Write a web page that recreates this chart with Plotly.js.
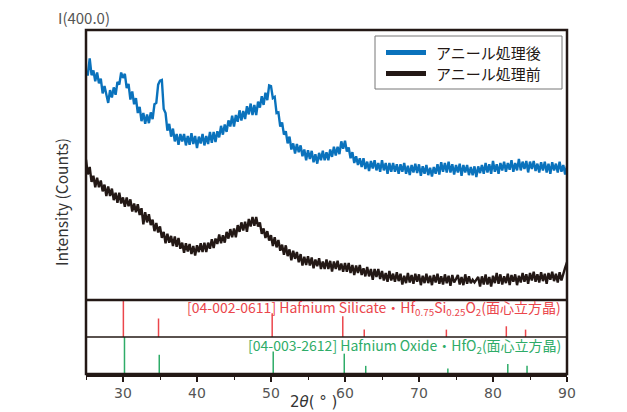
<!DOCTYPE html>
<html>
<head>
<meta charset="utf-8">
<script src="https://cdn.plot.ly/plotly-3.0.1.min.js"></script>
<style>html,body{margin:0;padding:0;background:#fff;}#chart{width:627px;height:412px;}</style>
</head>
<body>
<div id="chart"></div>
<script>
// 2θ sampling grid of the scan
const twoThetaStart = 25;
const twoThetaStep = 0.25;

// Intensity after annealing (アニール処理後), counts, 25°–90° every 0.25°
const intensityAfter = [
334,334,358,333, 340,324,337,321, 328,306,317,302, 292,311,300,315, 304,323,319,337,
329,335,314,320, 297,309,290,299, 277,286,265,277, 261,275,262,278, 268,290,292,319,
325,326,283,277, 251,261,242,254, 235,246,230,246, 235,246,229,243, 230,247,231,243,
225,242,232,246, 229,243,231,249, 233,249,234,250, 241,258,245,260, 249,266,257,273,
257,274,264,281, 266,280,268,287, 275,291,274,289, 274,294,285,302, 289,307,296,318,
317,299,301,277, 278,257,263,245, 250,232,242,223, 232,217,231,219, 229,213,223,207,
222,209,221,204, 216,202,218,207, 221,207,219,207, 223,212,227,214, 227,216,235,224,
236,220,226,210, 219,203,213,200, 210,197,210,194, 205,191,206,195, 207,192,203,190,
207,192,203,187, 203,190,203,190, 201,187,201,190, 203,187,199,185, 200,189,202,188,
201,184,198,187, 200,185,196,183, 197,187,201,186, 204,190,203,189, 205,189,201,186,
200,189,202,184, 200,189,200,185, 197,185,198,182, 198,188,200,187, 203,189,201,187,
206,190,201,187, 203,192,205,190, 203,193,207,190, 203,192,209,192, 205,194,206,189,
205,194,206,191, 202,189,204,192, 205,189,202,187, 204,192,202,189, 205,190,200,186,
198
];

// Intensity before annealing (アニール処理前), counts
const intensityBefore = [
208,186,197,175, 184,167,181,167, 177,161,171,154, 168,154,165,148, 159,144,159,143,
152,138,152,139, 149,131,143,130, 142,126,136,112, 130,115,127,111, 119,102,114,100,
109,92,101,84, 98,85,95,80, 94,79,92,76, 85,70,84,72, 83,68,80,66,
81,71,84,71, 85,71,85,76, 90,77,91,83, 97,84,96,85, 101,91,105,93,
106,93,111,101, 115,103,116,101, 120,109,123,110, 123,109,115,98, 106,92,102,88,
96,80,93,78, 89,73,82,67, 81,65,75,59, 73,61,71,56, 68,51,64,52,
65,51,63,47, 60,50,62,46, 57,46,60,46, 58,42,57,46, 58,44,54,42,
55,42,55,40, 52,37,51,40, 52,37,47,35, 49,35,46,30, 46,34,46,31,
43,29,40,27, 43,29,39,27, 41,28,39,23, 36,25,40,26, 37,24,39,27,
38,22,36,25, 39,25,36,22, 37,26,39,24, 35,23,38,25, 36,21,37,26,
31,37,23,34, 22,38,24,35, 25,30,26,31, 34,20,35,23, 38,23,34,20,
36,25,40,24, 38,23,35,25, 39,22,37,27, 38,22,36,26, 40,27,38,24,
40,29,42,27, 38,26,41,28, 39,24,40,30, 42,28,39,26, 41,29,40,48,
56
];

// Reference pattern [04-002-0611] Hafnium Silicate (relative intensity %)
const silicatePeaks = [30.05, 34.8, 50.16, 59.7, 62.6, 73.7, 81.8, 84.4];
const silicateHeights = [100, 50, 64, 56, 20, 20, 29, 20];
// Reference pattern [04-003-2612] Hafnium Oxide
const oxidePeaks = [30.2, 34.9, 50.3, 59.9, 62.8, 73.9, 82.0, 84.6];
const oxideHeights = [100, 52, 61, 55, 22, 15, 27, 22];

const xTickValues = [30, 40, 50, 60, 70, 80, 90];
const seriesNames = ['アニール処理後', 'アニール処理前'];

const blue = '#0a72bc', black = '#231815', red = '#eb464c', green = '#2eac68';
const fontFam = '"Noto Sans CJK JP", "Noto Sans", sans-serif';
const tickFam = '"DejaVu Sans", "Noto Sans", sans-serif';

const twoTheta = intensityAfter.map((_, i) => twoThetaStart + i * twoThetaStep);

function stickXY(pos, h) {
  const xs = [], ys = [];
  pos.forEach((p, i) => { xs.push(p, p, null); ys.push(0, h[i], null); });
  return {xs, ys};
}
const sil = stickXY(silicatePeaks, silicateHeights);
const oxi = stickXY(oxidePeaks, oxideHeights);

const traces = [
  {x: twoTheta, y: intensityAfter, type: 'scatter', mode: 'lines', name: seriesNames[0],
   line: {color: blue, width: 2.4}, xaxis: 'x', yaxis: 'y', showlegend: false},
  {x: twoTheta, y: intensityBefore, type: 'scatter', mode: 'lines', name: seriesNames[1],
   line: {color: black, width: 2.4}, xaxis: 'x', yaxis: 'y', showlegend: false},
  {x: sil.xs, y: sil.ys, type: 'scatter', mode: 'lines', line: {color: red, width: 1.5},
   xaxis: 'x', yaxis: 'y2', showlegend: false, hoverinfo: 'skip'},
  {x: oxi.xs, y: oxi.ys, type: 'scatter', mode: 'lines', line: {color: green, width: 1.5},
   xaxis: 'x', yaxis: 'y3', showlegend: false, hoverinfo: 'skip'}
];

const W = 627, H = 412, L = 86, R = 60, T = 30, B = 38;
const pw = W - L - R, ph = H - T - B;
const px = v => (v - L) / pw;
const py = v => (H - B - v) / ph;
const d1 = py(300), d2 = py(337);

const layout = {
  width: W, height: H,
  margin: {l: L, r: R, t: T, b: B},
  paper_bgcolor: '#fff', plot_bgcolor: '#fff',
  font: {family: fontFam, color: '#444'},
  showlegend: false,
  xaxis: {
    domain: [0, 1], range: [25, 90], anchor: 'y3',
    showline: true, linewidth: 2.5, linecolor: black,
    ticks: 'outside', ticklen: 5, tickwidth: 1.5, tickcolor: black,
    tickvals: xTickValues,
    minor: {dtick: 5, tick0: 25, ticks: 'outside', ticklen: 3, tickwidth: 1, tickcolor: black},
    tickfont: {size: 14, color: '#555', family: tickFam},
    showgrid: false, zeroline: false
  },
  yaxis: {domain: [d1, 1], range: [0, 400], showticklabels: false, showgrid: false, zeroline: false, ticks: ''},
  yaxis2: {domain: [d2, d1], range: [0, 100], showticklabels: false, showgrid: false, zeroline: false, ticks: ''},
  yaxis3: {domain: [0, d2], range: [0, 100], showticklabels: false, showgrid: false, zeroline: false, ticks: ''},
  shapes: [
    {type: 'rect', xref: 'paper', yref: 'paper', x0: 0, x1: 1, y0: 0, y1: 1, line: {color: black, width: 2.5}},
    {type: 'line', xref: 'paper', yref: 'paper', x0: 0, x1: 1, y0: d1, y1: d1, line: {color: black, width: 2.5}},
    {type: 'line', xref: 'paper', yref: 'paper', x0: 0, x1: 1, y0: d2, y1: d2, line: {color: black, width: 1.5}},
    // legend box and samples
    {type: 'rect', xref: 'paper', yref: 'paper', x0: px(375), x1: px(562), y0: py(89), y1: py(36),
     line: {color: '#777', width: 1}, fillcolor: '#fff'},
    {type: 'line', xref: 'paper', yref: 'paper', x0: px(386), x1: px(426), y0: py(52.5), y1: py(52.5), line: {color: blue, width: 5}},
    {type: 'line', xref: 'paper', yref: 'paper', x0: px(386), x1: px(426), y0: py(73.5), y1: py(73.5), line: {color: black, width: 5}}
  ],
  annotations: [
    {xref: 'paper', yref: 'paper', x: px(434), y: py(52.5), xanchor: 'left', yanchor: 'middle', showarrow: false,
     text: seriesNames[0], font: {size: 15, color: black, family: fontFam}},
    {xref: 'paper', yref: 'paper', x: px(434), y: py(73.5), xanchor: 'left', yanchor: 'middle', showarrow: false,
     text: seriesNames[1], font: {size: 15, color: black, family: fontFam}},
    {xref: 'paper', yref: 'paper', x: px(563), y: py(308), xanchor: 'right', yanchor: 'middle', showarrow: false,
     text: '[04-002-0611] Hafnium Silicate・Hf<sub>0.75</sub>Si<sub>0.25</sub>O<sub>2</sub>(面心立方晶)',
     font: {size: 14, color: red, family: fontFam}},
    {xref: 'paper', yref: 'paper', x: px(563), y: py(346), xanchor: 'right', yanchor: 'middle', showarrow: false,
     text: '[04-003-2612] Hafnium Oxide・HfO<sub>2</sub>(面心立方晶)',
     font: {size: 14, color: green, family: fontFam}},
    {xref: 'paper', yref: 'paper', x: px(61), y: 0.5, xanchor: 'center', yanchor: 'middle', showarrow: false,
     textangle: -90, text: 'Intensity (Counts)', font: {size: 15.5, color: '#333', family: fontFam}},
    {xref: 'paper', yref: 'paper', x: px(56), y: py(18), xanchor: 'left', yanchor: 'middle', showarrow: false,
     text: 'I(400.0)', font: {size: 15, color: '#555', family: fontFam}},
    {xref: 'paper', yref: 'paper', x: px(313), y: py(402), xanchor: 'center', yanchor: 'middle', showarrow: false,
     text: '2<i>θ</i>( ° )', font: {size: 15, color: '#333', family: tickFam}}
  ]
};

Plotly.newPlot('chart', traces, layout, {staticPlot: true, displayModeBar: false});
</script>
</body>
</html>
